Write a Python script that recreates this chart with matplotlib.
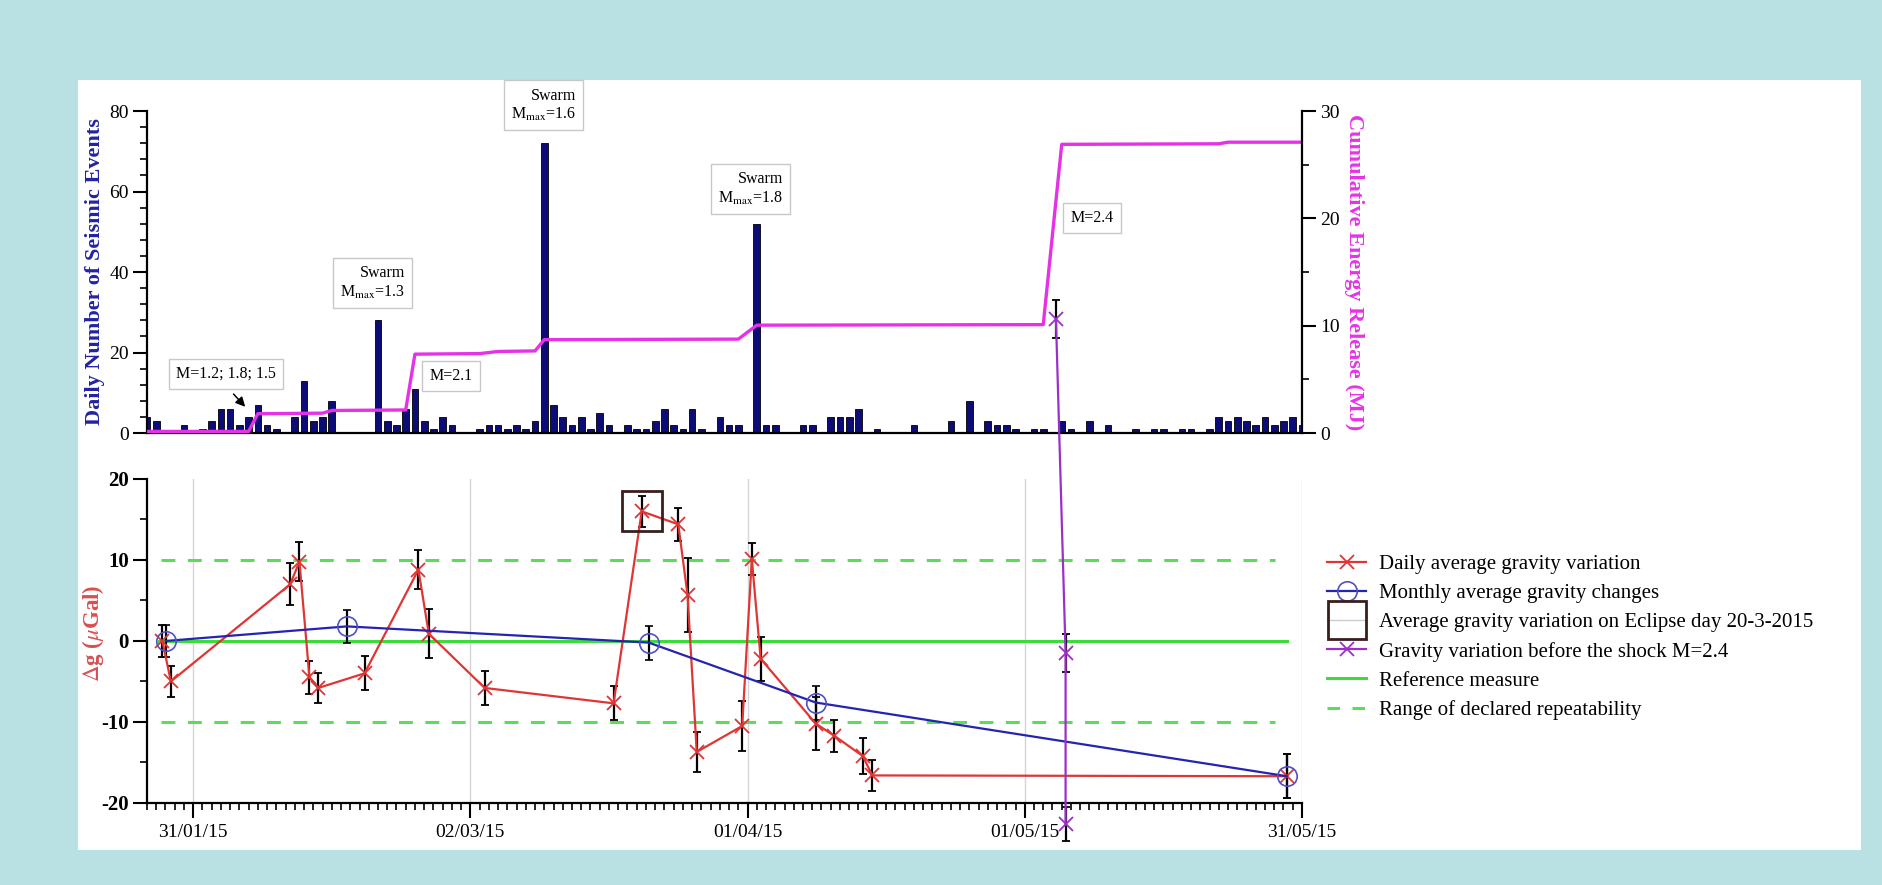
# Seismicity vs. gravity variations (Jan-May 2015)

import numpy as np
import pandas as pd
import matplotlib
matplotlib.use("Agg")
import matplotlib.pyplot as plt
import matplotlib.dates as mdates
from matplotlib.ticker import MultipleLocator
from matplotlib.lines import Line2D
from matplotlib.patches import Rectangle

plt.rcParams['font.family'] = ['Liberation Serif', 'DejaVu Serif']
plt.rcParams['mathtext.fontset'] = 'stix'
plt.rcParams['axes.unicode_minus'] = False
plt.rcParams['lines.scale_dashes'] = False

# Daily number of seismic events, one value per day from 26/01/15 to 31/05/15
DAY_START = "2015-01-26"
DAY_END = "2015-05-31"
daily_events = [4, 3, 0, 0, 2, 0, 1, 3, 6, 6,
                2, 4, 7, 2, 1, 0, 4, 13, 3, 4,
                8, 0, 0, 0, 0, 28, 3, 2, 6, 11,
                3, 1, 4, 2, 0, 0, 1, 2, 2, 1,
                2, 1, 3, 72, 7, 4, 2, 4, 1, 5,
                2, 0, 2, 1, 1, 3, 6, 2, 1, 6,
                1, 0, 4, 2, 2, 0, 52, 2, 2, 0,
                0, 2, 2, 0, 4, 4, 4, 6, 0, 1,
                0, 0, 0, 2, 0, 0, 0, 3, 0, 8,
                0, 3, 2, 2, 1, 0, 1, 1, 0, 3,
                1, 0, 3, 0, 2, 0, 0, 1, 0, 1,
                1, 0, 1, 1, 0, 1, 4, 3, 4, 3,
                2, 4, 2, 3, 4, 2]

# Cumulative energy release (MJ)
energy_dates = ["2015-01-26", "2015-02-06", "2015-02-07", "2015-02-14", "2015-02-15",
                "2015-02-23", "2015-02-24", "2015-03-03", "2015-03-05", "2015-03-09",
                "2015-03-10", "2015-03-31", "2015-04-02", "2015-05-03", "2015-05-05",
                "2015-05-22", "2015-05-23", "2015-05-31"]
energy_mj = [0.15, 0.15, 1.8, 1.85, 2.1, 2.15, 7.35, 7.4, 7.6, 7.65,
             8.7, 8.75, 10.05, 10.1, 26.9, 26.95, 27.1, 27.1]

# Daily average gravity variation (microGal)
daily_dates = ["2015-01-27 16:00", "2015-01-28 14:00", "2015-02-10 12:00", "2015-02-11 12:00",
               "2015-02-12 14:00", "2015-02-13 13:00", "2015-02-18 13:00", "2015-02-24 09:00",
               "2015-02-25 12:00", "2015-03-03 13:00", "2015-03-17 12:00", "2015-03-20 13:00",
               "2015-03-24 12:00", "2015-03-25 12:00", "2015-03-26 12:00", "2015-03-31 10:00",
               "2015-04-01 11:00", "2015-04-02 10:00", "2015-04-08 09:00", "2015-04-10 09:00",
               "2015-04-13 11:00", "2015-04-14 12:00", "2015-05-29 09:00"]
daily_dg = [0.0, -5.0, 7.0, 9.8, -4.5, -5.8, -4.0, 8.8, 0.9, -5.8, -7.7, 16.0,
            14.4, 5.7, -13.7, -10.5, 10.1, -2.2, -10.2, -11.7, -14.2, -16.6, -16.7]
daily_err = [2.0, 1.9, 2.6, 2.4, 2.0, 1.9, 2.1, 2.4, 3.0, 2.1, 2.1, 1.95,
             2.0, 4.6, 2.5, 3.1, 2.0, 2.7, 3.3, 1.95, 2.2, 1.95, 2.7]

# Monthly average gravity changes
monthly_dates = ["2015-01-28 01:00", "2015-02-16 15:00", "2015-03-21 07:00",
                 "2015-04-08 09:00", "2015-05-29 09:00"]
monthly_dg = [0.0, 1.8, -0.2, -7.6, -16.7]
monthly_err = [2.0, 2.05, 2.1, 2.1, 2.7]

# Eclipse day 20-3-2015
eclipse_dates = ["2015-03-20 13:00"]
eclipse_dg = [16.0]

# Gravity variation before the M=2.4 shock
shock_dates = ["2015-05-04 09:00", "2015-05-05 10:00", "2015-05-05 10:00"]
shock_dg = [39.7, -1.5, -22.6]
shock_err = [2.35, 2.35, 2.1]

# Reference measure and range of declared repeatability
ref_span = ["2015-01-27 08:00", "2015-05-29 09:00"]
band_span = ["2015-01-27 12:00", "2015-05-28 03:00"]
repeat_limits = [-10, 10]

date_ticks = ["2015-01-31", "2015-03-02", "2015-04-01", "2015-05-01", "2015-05-31"]
grav_ticks = [-20, -10, 0, 10, 20]
count_ticks = [0, 20, 40, 60, 80]
energy_ticks = [0, 10, 20, 30]

RED = '#e03535'
BLUE = '#2424b0'
PURPLE = '#9b30c8'
GREEN = '#3ddc3d'
GREEN2 = '#5ade5a'
MAGENTA = '#e632e6'
NAVY = '#0c0c78'

fig = plt.figure(figsize=(18.82, 8.85), dpi=100, facecolor='#b9e1e3')
fig.add_artist(Rectangle((78 / 1882, 1 - 850 / 885), (1861 - 78) / 1882, 770 / 885,
                         transform=fig.transFigure, facecolor='white', edgecolor='none', zorder=-1))

x0 = mdates.date2num(pd.Timestamp(DAY_START))
x1 = mdates.date2num(pd.Timestamp(DAY_END))

MAJ = dict(direction='out', length=10, width=1.5, labelsize=14, pad=3)
MIN = dict(direction='out', length=5, width=1.2)

# ---------------- top panel: seismicity ----------------
ax1 = fig.add_axes([0.0781, 0.5107, 0.6137, 0.3638])
days = pd.date_range(DAY_START, DAY_END, freq='D')
ax1.bar(mdates.date2num(days.to_pydatetime()), daily_events, width=0.72,
        color=NAVY, edgecolor='black', linewidth=0.6)
ax1.set_xlim(x0, x1)
ax1.set_ylim(0, 80)
ax1.set_xticks([])
ax1.set_yticks(count_ticks)
ax1.yaxis.set_minor_locator(MultipleLocator(4))
ax1.tick_params(axis='y', which='major', **MAJ)
ax1.tick_params(axis='y', which='minor', **MIN)
for s in ['top', 'right']:
    ax1.spines[s].set_visible(False)
for s in ['left', 'bottom']:
    ax1.spines[s].set_linewidth(1.6)
ax1.set_ylabel('Daily Number of Seismic Events', fontsize=16, fontweight='bold',
               color='#2222a3', va='center')
ax1.yaxis.set_label_coords(-0.045, 0.5)

ax2 = ax1.twinx()
ax2.plot(mdates.date2num(pd.to_datetime(energy_dates).to_pydatetime()), energy_mj,
         color=MAGENTA, lw=2.4)
ax2.set_ylim(0, 30)
ax2.set_xlim(x0, x1)
ax2.set_yticks(energy_ticks)
ax2.yaxis.set_minor_locator(MultipleLocator(5))
ax2.tick_params(axis='y', which='major', **MAJ)
ax2.tick_params(axis='y', which='minor', **MIN)
for s in ['top', 'left', 'bottom']:
    ax2.spines[s].set_visible(False)
ax2.spines['right'].set_linewidth(1.6)
ax2.set_ylabel('Cumulative Energy Release (MJ)', fontsize=16, fontweight='bold',
               color=MAGENTA, rotation=270, va='center')
ax2.yaxis.set_label_coords(1.045, 0.5)

box = dict(boxstyle='square,pad=0.45', facecolor='white', edgecolor='#c8c8c8', linewidth=1)


def note(txt, when, y):
    ax2.text(mdates.date2num(pd.Timestamp(when)), y * 30 / 80, txt, fontsize=11.5,
             ha='center', va='center', multialignment='right', bbox=box, zorder=5)


note('M=1.2; 1.8; 1.5', "2015-02-03 14:00", 14.7)
note('Swarm\nM$_{\\rm max}$=1.3', "2015-02-19 10:00", 37.2)
note('M=2.1', "2015-02-27 22:00", 14.1)
note('Swarm\nM$_{\\rm max}$=1.6', "2015-03-09 22:00", 81.4)
note('Swarm\nM$_{\\rm max}$=1.8', "2015-04-01 08:00", 60.7)
note('M=2.4', "2015-05-08 07:00", 53.4)
ax1.annotate('', xy=(mdates.date2num(pd.Timestamp("2015-02-05 20:00")), 6.0),
             xytext=(mdates.date2num(pd.Timestamp("2015-02-04 04:00")), 10.2),
             arrowprops=dict(arrowstyle='-|>', color='black', lw=1.1, mutation_scale=14))

# ---------------- bottom panel: gravity ----------------
ax3 = fig.add_axes([0.0781, 0.0927, 0.6137, 0.3661])
ax3.set_zorder(5)
ax3.patch.set_visible(False)


def dnum(lst):
    return mdates.date2num(pd.to_datetime(lst).to_pydatetime())


ax3.plot(dnum(ref_span), [0, 0], color=GREEN, lw=2.2, zorder=2)
for lim in repeat_limits:
    ax3.plot(dnum(band_span), [lim, lim], color=GREEN2, lw=2.2, dashes=(10, 9), zorder=2)

err_kw = dict(ecolor='black', elinewidth=1.6, capsize=3, capthick=1.6)
ax3.errorbar(dnum(daily_dates), daily_dg, yerr=daily_err, fmt='-x', color=RED,
             ms=10, mew=1.3, lw=1.6, zorder=3, **err_kw)
ax3.errorbar(dnum(monthly_dates), monthly_dg, yerr=monthly_err, fmt='-o', color=BLUE,
             mfc='none', mec='#5050c8', ms=14, mew=1.2, lw=1.6, zorder=3, **err_kw)
ax3.plot(dnum(eclipse_dates), eclipse_dg, color='#cccccc', marker='s', ms=29, mfc='none',
         mec='#3a1e1e', mew=2, zorder=4)
shock = ax3.errorbar(dnum(shock_dates), shock_dg, yerr=shock_err, fmt='-x', color=PURPLE,
                     ms=10, mew=1.3, lw=1.6, zorder=6, **err_kw)
for art in shock.get_children():
    art.set_clip_on(False)

ax3.set_xlim(x0, x1)
ax3.set_ylim(-20, 20)
ax3.set_yticks(grav_ticks)
ax3.set_yticklabels([str(t) for t in grav_ticks], fontweight='bold')
ax3.yaxis.set_minor_locator(MultipleLocator(5))
ax3.tick_params(axis='y', which='major', **dict(MAJ, labelsize=15))
ax3.tick_params(axis='y', which='minor', **MIN)
ax3.set_xticks(dnum(date_ticks))
ax3.xaxis.set_major_formatter(mdates.DateFormatter('%d/%m/%y'))
ax3.xaxis.set_minor_locator(mdates.DayLocator())
ax3.tick_params(axis='x', which='major', direction='out', length=11, width=1.5, labelsize=14, pad=4)
ax3.tick_params(axis='x', which='minor', direction='out', length=5, width=1.2)
ax3.grid(axis='x', which='major', color='#d5d5d5', lw=1)
for s in ['top', 'right']:
    ax3.spines[s].set_visible(False)
for s in ['left', 'bottom']:
    ax3.spines[s].set_linewidth(1.6)
ax3.set_ylabel(r'$\Delta$g ($\mu$Gal)', fontsize=16.5, fontweight='bold', color='#d65050', va='center')
ax3.yaxis.set_label_coords(-0.0468, 0.525)

handles = [
    Line2D([], [], color=RED, marker='x', ms=10, mew=1.3, lw=1.6),
    Line2D([], [], color=BLUE, marker='o', mfc='none', mec='#5050c8', ms=14, mew=1.2, lw=1.6),
    Line2D([], [], color='#cccccc', lw=1, marker='s', ms=28, mfc='none', mec='#3a1e1e', mew=2),
    Line2D([], [], color=PURPLE, marker='x', ms=10, mew=1.3, lw=1.6),
    Line2D([], [], color=GREEN, lw=2.2),
    Line2D([], [], color=GREEN2, lw=2.2, dashes=(9, 9)),
]
labels = ['Daily average gravity variation', 'Monthly average gravity changes',
          'Average gravity variation on Eclipse day 20-3-2015',
          'Gravity variation before the shock M=2.4', 'Reference measure',
          'Range of declared repeatability']
fig.legend(handles, labels, loc='upper left', bbox_to_anchor=(0.705, 0.373), frameon=False,
           fontsize=15, handlelength=1.9, handletextpad=0.6, labelspacing=0.45,
           borderpad=0, borderaxespad=0)

fig.savefig('out.png', dpi=100, facecolor=fig.get_facecolor())
